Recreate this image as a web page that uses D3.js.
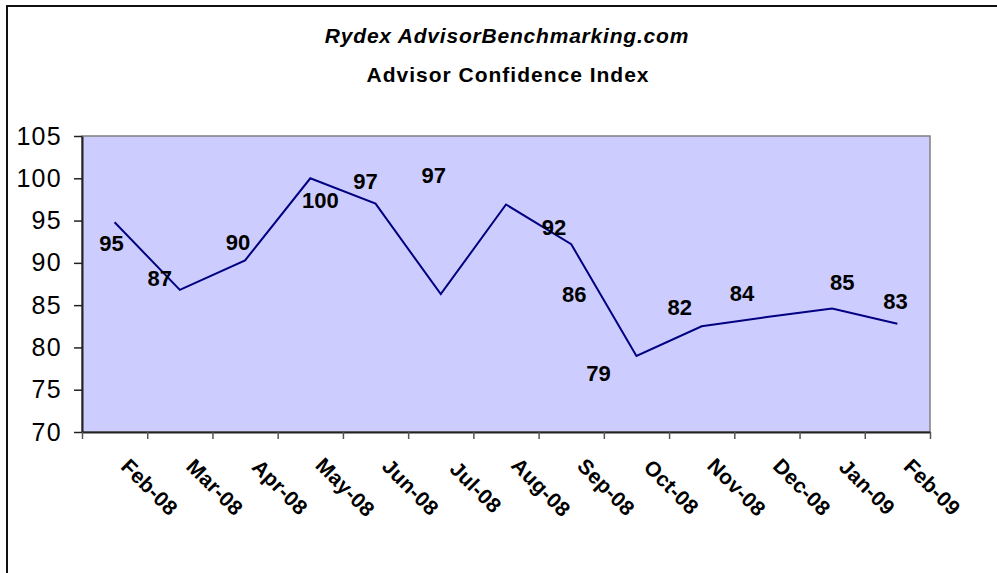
<!DOCTYPE html>
<html lang="en">
<head>
    <meta charset="UTF-8">
    <title>Advisor Confidence Index</title>
    <style>
        body { margin: 0; background: #fff; }
        text { font-family: Arial, "Liberation Sans", sans-serif; }
    </style>
</head>
<body>
    <div id="chart"></div>
    <script src="https://d3js.org/d3.v7.min.js"></script>
    <script>
        // axis labels sit on the month boundaries, points fall mid-month
        const tickLabels = ["Feb-08", "Mar-08", "Apr-08", "May-08", "Jun-08", "Jul-08", "Aug-08",
                            "Sep-08", "Oct-08", "Nov-08", "Dec-08", "Jan-09", "Feb-09"];
        const values = [94.8, 86.8, 90.3, 100, 97, 86.3, 96.9, 92.2, 79, 82.5, 83.6, 84.6, 82.8];
        const labelText = [95, 87, 90, 100, 97, 97, 92, 86, 79, 82, 84, 85, 83];
        const yTicks = [70, 75, 80, 85, 90, 95, 100, 105];

        const [width, height] = [997, 573];
        const plot = {left: 82, right: 930, top: 136, bottom: 432};

        // where each data label was dragged to, relative to its point (px)
        const labelNudge = [[-3, 21], [-20, -11], [-7, -18], [10, 22], [-10, -22], [-7, -119], [48, 23],
                            [3, 50], [-38, 18], [-22, -19], [-25, -23], [10, -26], [-2, -22]];

        const svg = d3.select("#chart").append("svg")
            .attr("width", width)
            .attr("height", height);

        // outer chart border (cropped on right and bottom)
        svg.append("rect")
            .attr("x", 7).attr("y", 6)
            .attr("width", 1100).attr("height", 700)
            .attr("fill", "none")
            .attr("stroke", "#111")
            .attr("stroke-width", 2);

        const x = d3.scaleLinear().domain([0, tickLabels.length]).range([plot.left, plot.right]);
        const y = d3.scaleLinear().domain([70, 105]).range([plot.bottom, plot.top]);

        // plot area
        svg.append("rect")
            .attr("x", plot.left).attr("y", plot.top)
            .attr("width", plot.right - plot.left).attr("height", plot.bottom - plot.top)
            .attr("fill", "#ccccff")
            .attr("stroke", "#808080")
            .attr("stroke-width", 1.5);

        // titles
        svg.append("text")
            .attr("x", 507).attr("y", 43)
            .attr("text-anchor", "middle")
            .style("font-size", "21px").style("font-weight", "bold").style("font-style", "italic")
            .style("letter-spacing", "0.8px")
            .text("Rydex AdvisorBenchmarking.com");
        svg.append("text")
            .attr("x", 508).attr("y", 82)
            .attr("text-anchor", "middle")
            .style("font-size", "21px").style("font-weight", "bold")
            .style("letter-spacing", "1px")
            .text("Advisor Confidence Index");

        // y axis
        const yAxis = svg.append("g")
            .attr("transform", `translate(${plot.left},0)`)
            .call(d3.axisLeft(y).tickValues(yTicks).tickSize(8).tickPadding(12).tickSizeOuter(0));
        yAxis.select(".domain").attr("stroke", "#222").attr("stroke-width", 2);
        yAxis.selectAll(".tick line").attr("stroke", "#222").attr("stroke-width", 1.5);
        yAxis.selectAll(".tick text")
            .attr("fill", "#000")
            .style("font-family", "Arial, 'Liberation Sans', sans-serif")
            .style("font-size", "25px")
            .style("letter-spacing", "1.3px");

        // x axis
        const xAxis = svg.append("g")
            .attr("transform", `translate(0,${plot.bottom})`)
            .call(d3.axisBottom(x)
                .tickValues(d3.range(tickLabels.length + 1))
                .tickFormat(i => i ? tickLabels[i - 1] : "")
                .tickSize(7).tickSizeOuter(0));
        xAxis.select(".domain").attr("stroke", "#222").attr("stroke-width", 2);
        xAxis.selectAll(".tick line").attr("stroke", "#555").attr("stroke-width", 1.5);
        xAxis.selectAll(".tick text")
            .attr("y", 0).attr("dy", null)
            .attr("text-anchor", "middle")
            .attr("dominant-baseline", "central")
            .attr("transform", "translate(2,55) rotate(45)")
            .attr("fill", "#000")
            .style("font-family", "Arial, 'Liberation Sans', sans-serif")
            .style("font-size", "21px")
            .style("font-weight", "bold")
            .style("letter-spacing", "0.3px");

        // the index line
        const line = d3.line()
            .x((d, i) => x(i + 0.5))
            .y(d => y(d));

        svg.append("path")
            .datum(values)
            .attr("d", line)
            .attr("fill", "none")
            .attr("stroke", "#000080")
            .attr("stroke-width", 2);

        // data labels
        svg.append("g").selectAll("text")
            .data(labelText)
            .join("text")
            .attr("x", (d, i) => x(i + 0.5) + labelNudge[i][0])
            .attr("y", (d, i) => y(values[i]) + labelNudge[i][1])
            .attr("text-anchor", "middle")
            .attr("dominant-baseline", "central")
            .style("font-size", "22px")
            .style("font-weight", "bold")
            .text(d => d);
    </script>
</body>
</html>
